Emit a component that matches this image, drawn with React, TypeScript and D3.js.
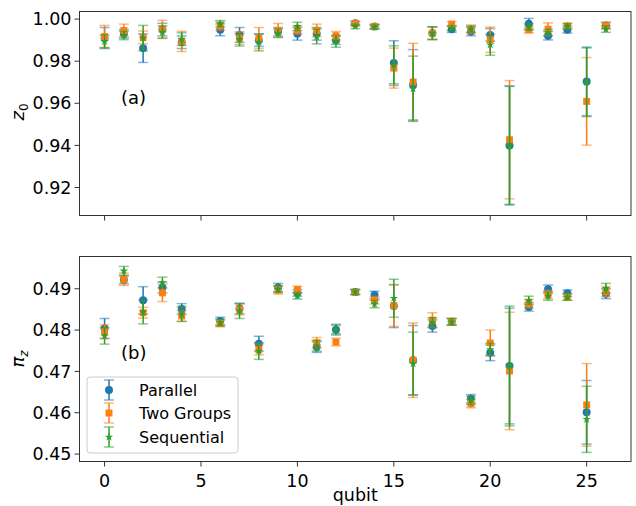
import React from 'react';
import * as d3 from 'd3';

// qubit indices (qubit 5 has no data)
const qubits = [0, 1, 2, 3, 4, 6, 7, 8, 9, 10, 11, 12, 13, 14, 15, 16, 17, 18, 19, 20, 21, 22, 23, 24, 25, 26];

// panel (a): z0
const z0Parallel = [0.991, 0.993, 0.9862, 0.995, 0.989, 0.9949, 0.9925, 0.990, 0.994, 0.993, 0.993, 0.990, 0.998, 0.9965, 0.9791, 0.9688, 0.9933, 0.9952, 0.9941, 0.9925, 0.940, 0.9978, 0.9921, 0.9949, 0.9704, 0.997];
const z0ParallelErr = [0.005, 0.002, 0.0068, 0.003, 0.003, 0.0028, 0.0035, 0.003, 0.002, 0.003, 0.003, 0.002, 0.001, 0.001, 0.0106, 0.0167, 0.003, 0.0015, 0.002, 0.003, 0.0283, 0.0025, 0.002, 0.0015, 0.0163, 0.0015];
const z0TwoGroups = [0.9917, 0.9946, 0.9913, 0.9952, 0.9894, 0.9968, 0.991, 0.991, 0.9946, 0.9949, 0.9946, 0.9921, 0.9978, 0.9965, 0.9767, 0.9701, 0.9933, 0.9976, 0.9952, 0.9902, 0.9427, 0.9949, 0.9952, 0.9968, 0.9609, 0.9968];
const z0TwoGroupsErr = [0.0053, 0.003, 0.003, 0.0042, 0.0048, 0.002, 0.003, 0.005, 0.0033, 0.002, 0.003, 0.002, 0.001, 0.001, 0.0095, 0.0184, 0.003, 0.0012, 0.002, 0.006, 0.0281, 0.0015, 0.003, 0.0012, 0.0208, 0.0015];
const z0Sequential = [0.9894, 0.9922, 0.991, 0.9938, 0.9905, 0.9978, 0.9902, 0.9889, 0.9933, 0.9965, 0.9917, 0.9894, 0.9965, 0.9962, 0.9783, 0.9669, 0.9933, 0.9957, 0.9952, 0.9878, 0.940, 0.9962, 0.9936, 0.9965, 0.970, 0.9952];
const z0SequentialErr = [0.003, 0.002, 0.006, 0.003, 0.003, 0.0015, 0.003, 0.004, 0.002, 0.002, 0.0035, 0.0028, 0.001, 0.001, 0.009, 0.0155, 0.003, 0.0012, 0.0015, 0.005, 0.028, 0.0015, 0.0015, 0.0012, 0.0163, 0.0015];

// panel (b): pi_z
const piParallel = [0.4804, 0.4922, 0.4872, 0.4903, 0.4851, 0.4822, 0.4852, 0.4767, 0.4903, 0.4890, 0.4759, 0.4801, 0.4892, 0.4885, 0.4858, 0.4727, 0.4810, 0.4820, 0.4634, 0.4745, 0.4713, 0.4856, 0.4899, 0.4889, 0.4601, 0.4888];
const piParallelErr = [0.0024, 0.001, 0.0033, 0.0013, 0.0013, 0.0009, 0.0013, 0.0018, 0.001, 0.0008, 0.0013, 0.0013, 0.0006, 0.0009, 0.0052, 0.0084, 0.0015, 0.0008, 0.001, 0.0019, 0.014, 0.001, 0.001, 0.0008, 0.0077, 0.0012];
const piTwoGroups = [0.4796, 0.4923, 0.4842, 0.4890, 0.4834, 0.4816, 0.4850, 0.4753, 0.4897, 0.4898, 0.4769, 0.4771, 0.4892, 0.4872, 0.4859, 0.4727, 0.4824, 0.4820, 0.4622, 0.4769, 0.4701, 0.4864, 0.4886, 0.4880, 0.4619, 0.4893];
const piTwoGroupsErr = [0.0017, 0.0015, 0.0013, 0.0021, 0.0013, 0.0008, 0.0013, 0.0013, 0.001, 0.0008, 0.0013, 0.0009, 0.0006, 0.0009, 0.005, 0.009, 0.0018, 0.0008, 0.001, 0.0031, 0.0142, 0.001, 0.001, 0.0008, 0.010, 0.0012];
const piSequential = [0.4786, 0.4943, 0.4844, 0.4915, 0.4839, 0.4818, 0.4846, 0.4749, 0.4899, 0.4883, 0.4762, 0.4801, 0.4892, 0.4863, 0.4877, 0.4719, 0.4818, 0.4820, 0.4630, 0.4753, 0.4713, 0.4872, 0.4882, 0.4880, 0.4584, 0.4901];
const piSequentialErr = [0.002, 0.0011, 0.0029, 0.0013, 0.0018, 0.0008, 0.0018, 0.002, 0.0008, 0.0008, 0.0013, 0.001, 0.0006, 0.0009, 0.0046, 0.0076, 0.0012, 0.0008, 0.001, 0.0015, 0.0145, 0.001, 0.001, 0.0008, 0.008, 0.0012];

const seriesNames = ['Parallel', 'Two Groups', 'Sequential'];
const seriesColors = ['#1f77b4', '#ff7f0e', '#2ca02c'];
const seriesSymbols = [d3.symbolCircle, d3.symbolSquare, d3.symbolStar];
const symbolSizes = [50, 48, 22];

const xTicks = [0, 5, 10, 15, 20, 25];
const z0Ticks = [0.92, 0.94, 0.96, 0.98, 1.0];
const piTicks = [0.45, 0.46, 0.47, 0.48, 0.49];

const W = 636;
const H = 506;
const left = 79.5;
const right = 631;
const font = 'DejaVu Sans, sans-serif';

const x = d3.scaleLinear().domain([-1.3, 27.3]).range([left, right]);

type PanelProps = {
  top: number;
  bottom: number;
  domain: [number, number];
  ticks: number[];
  fmt: (v: number) => string;
  values: number[][];
  errs: number[][];
  tag: string;
  tagY: number;
  showXLabels: boolean;
};

function Panel({ top, bottom, domain, ticks, fmt, values, errs, tag, tagY, showXLabels }: PanelProps) {
  const y = d3.scaleLinear().domain(domain).range([bottom, top]);
  return (
    <g>
      {values.map((vals, s) => (
        <g key={s}>
          {vals.map((v, i) => {
            const cx = x(qubits[i]);
            const y0 = y(v - errs[s][i]);
            const y1 = y(v + errs[s][i]);
            return (
              <g key={i} stroke={seriesColors[s]}>
                <line x1={cx} x2={cx} y1={y0} y2={y1} strokeWidth={1.5} />
                <line x1={cx - 5} x2={cx + 5} y1={y0} y2={y0} strokeWidth={1.5} strokeOpacity={0.55} />
                <line x1={cx - 5} x2={cx + 5} y1={y1} y2={y1} strokeWidth={1.5} strokeOpacity={0.55} />
              </g>
            );
          })}
          {vals.map((v, i) => (
            <path
              key={'m' + i}
              d={d3.symbol(seriesSymbols[s], symbolSizes[s])() || ''}
              transform={`translate(${x(qubits[i])},${y(v)})`}
              fill={seriesColors[s]}
            />
          ))}
        </g>
      ))}
      <rect x={left} y={top} width={right - left} height={bottom - top} fill="none" stroke="#333" strokeWidth={1} />
      {xTicks.map(t => (
        <g key={t}>
          <line x1={x(t)} x2={x(t)} y1={bottom} y2={bottom + 5} stroke="#333" />
          {showXLabels && (
            <text x={x(t)} y={bottom + 25} textAnchor="middle" fontSize={17.5} fontFamily={font}>{t}</text>
          )}
        </g>
      ))}
      {ticks.map(t => (
        <g key={t}>
          <line x1={left - 5} x2={left} y1={y(t)} y2={y(t)} stroke="#333" />
          <text x={left - 8} y={y(t)} dy="0.35em" textAnchor="end" fontSize={17.5} fontFamily={font}>{fmt(t)}</text>
        </g>
      ))}
      <text x={121} y={tagY} fontSize={18} fontFamily={font}>{tag}</text>
    </g>
  );
}

export default function App() {
  const fmt2 = d3.format('.2f');
  const legendY = [390, 413, 437];
  return (
    <div style={{ position: 'fixed', left: 0, top: 0 }}>
      <svg width={W} height={H} style={{ display: 'block', background: '#fff' }}>
        <Panel
          top={11.5}
          bottom={215.5}
          domain={[0.9067, 1.0036]}
          ticks={z0Ticks}
          fmt={fmt2}
          values={[z0Parallel, z0TwoGroups, z0Sequential]}
          errs={[z0ParallelErr, z0TwoGroupsErr, z0SequentialErr]}
          tag="(a)"
          tagY={104}
          showXLabels={false}
        />
        <Panel
          top={256.5}
          bottom={461.5}
          domain={[0.4482, 0.4978]}
          ticks={piTicks}
          fmt={fmt2}
          values={[piParallel, piTwoGroups, piSequential]}
          errs={[piParallelErr, piTwoGroupsErr, piSequentialErr]}
          tag="(b)"
          tagY={359}
          showXLabels={true}
        />
        <text transform="translate(24,112) rotate(-90)" textAnchor="middle" fontSize={18} fontFamily={font} fontStyle="italic">
          z<tspan fontSize={12} dy="4" fontStyle="normal">0</tspan>
        </text>
        <text transform="translate(24,359) rotate(-90)" textAnchor="middle" fontSize={18} fontFamily={font} fontStyle="italic">
          π<tspan fontSize={12} dy="4">z</tspan>
        </text>
        <text x={(left + right) / 2} y={501} textAnchor="middle" fontSize={17.5} fontFamily={font}>qubit</text>
        <rect x={87} y={377} width={151} height={76} rx={3} fill="#fff" fillOpacity={0.8} stroke="#ccc" />
        {seriesNames.map((n, s) => (
          <g key={n}>
            <g stroke={seriesColors[s]} strokeWidth={1.5}>
              <line x1={109} x2={109} y1={legendY[s] - 10} y2={legendY[s] + 10} />
              <line x1={104} x2={114} y1={legendY[s] - 10} y2={legendY[s] - 10} strokeOpacity={0.55} />
              <line x1={104} x2={114} y1={legendY[s] + 10} y2={legendY[s] + 10} strokeOpacity={0.55} />
            </g>
            <path d={d3.symbol(seriesSymbols[s], symbolSizes[s])() || ''} transform={`translate(109,${legendY[s]})`} fill={seriesColors[s]} />
            <text x={139} y={legendY[s]} dy="0.35em" fontSize={16} fontFamily={font}>{n}</text>
          </g>
        ))}
      </svg>
    </div>
  );
}
